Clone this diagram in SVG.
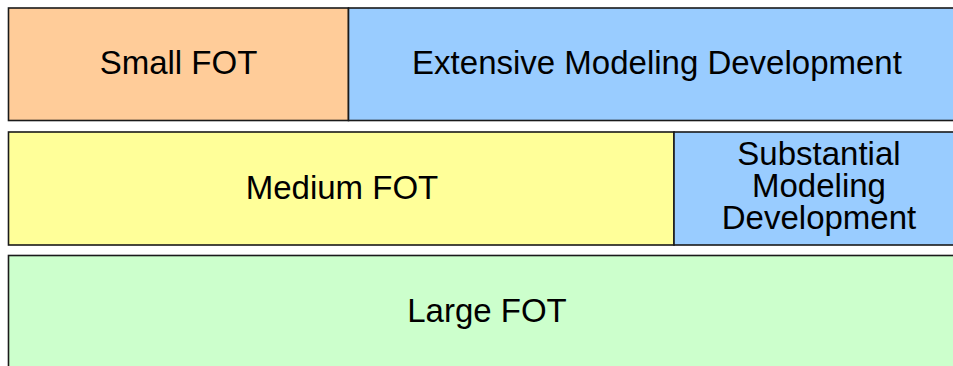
<svg xmlns="http://www.w3.org/2000/svg" width="953" height="366" viewBox="0 0 953 366">
<style>
.b{stroke:#1a1a1a;stroke-width:1.6}
.t{font-family:"Liberation Sans",Arial,sans-serif;font-size:33px;fill:#000;text-anchor:middle}
</style>
<rect width="953" height="366" fill="#fff"/>
<g id="small-fot"><rect class="b" x="8.5" y="8" width="340" height="112.5" fill="#FFCC99"/><text class="t" x="178.5" y="74">Small FOT</text></g>
<g id="extensive"><rect class="b" x="348.5" y="8" width="620" height="112.5" fill="#99CCFF"/><text class="t" x="657" y="74">Extensive Modeling Development</text></g>
<g id="medium-fot"><rect class="b" x="8.5" y="132" width="665.5" height="113" fill="#FFFF99"/><text class="t" x="342" y="199">Medium FOT</text></g>
<g id="substantial"><rect class="b" x="674" y="132" width="294" height="113" fill="#99CCFF"/><text class="t" x="819" y="165">Substantial</text><text class="t" x="819" y="197">Modeling</text><text class="t" x="819" y="229">Development</text></g>
<g id="large-fot"><rect class="b" x="8.5" y="255.5" width="960" height="130" fill="#CCFFCC"/><text class="t" x="487" y="322">Large FOT</text></g>
<g id="connectors"/>
</svg>
